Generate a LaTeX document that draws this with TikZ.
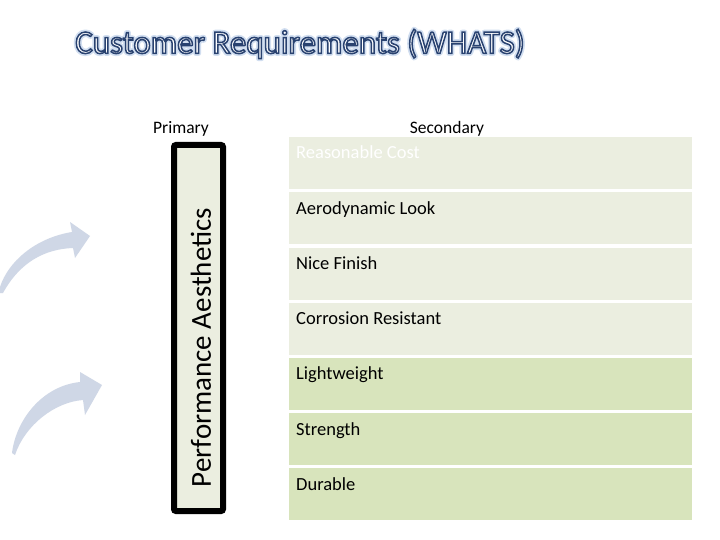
\documentclass[tikz,border=0pt]{standalone}
\usepackage{fontspec}
\setmainfont{Carlito}
\definecolor{rowA}{HTML}{EBEEE0}
\definecolor{rowB}{HTML}{D8E4BC}
\definecolor{arrowc}{HTML}{CFD7E6}
\tikzset{
  rowbox/.style={draw=none, minimum width=403pt, minimum height=52pt, anchor=north west, inner sep=0pt},
  rowtext/.style={anchor=base west, inner sep=0pt, font=\fontsize{18.5}{20}\selectfont},
  headtext/.style={inner sep=0pt, font=\fontsize{17.5}{19}\selectfont},
  primbox/.style={draw=black, line width=6pt, fill=rowA, rounded corners=2pt, minimum width=49pt, minimum height=366pt, inner sep=0pt},
  curvedarrow/.style={fill=arrowc, draw=none},
  titletext/.style={inner sep=0pt, font=\fontsize{33}{36}\selectfont}
}
\newcommand{\glowtext}[1]{\special{pdf:literal direct 2 Tr 5 w 1 J 1 j 0.82 0.87 0.94 RG 0.82 0.87 0.94 rg}#1\special{pdf:literal direct 0 Tr}}
\newcommand{\outlinetext}[1]{\special{pdf:literal direct 2 Tr 1.5 w 0.16 0.26 0.44 RG 1 1 1 rg}#1\special{pdf:literal direct 0 Tr}}
\begin{document}
\begin{tikzpicture}[x=1pt, y=-1pt]
\useasboundingbox (0,0) rectangle (720,540);
\fill[white] (0,0) rectangle (720,540);

% title (glow + outline)
\node[titletext] (titleglow) at (300,44) {\glowtext{Customer Requirements (WHATS)}};
\node[titletext] (title) at (300,44) {\outlinetext{Customer Requirements (WHATS)}};

% headings
\node[headtext] (prim) at (181,129) {Primary};
\node[headtext] (sec) at (447,129) {Secondary};

% primary box
\node[primbox] (pbox) at (198.5,328) {};
\node[rotate=90, inner sep=0pt, font=\fontsize{29}{31}\selectfont] (ptext) at (201,347.5) {Performance Aesthetics};

% rows
\node[rowbox, fill=rowA] (r1) at (289,137) {};
\node[rowbox, fill=rowA] (r2) at (289,192.2) {};
\node[rowbox, fill=rowA] (r3) at (289,247.4) {};
\node[rowbox, fill=rowA] (r4) at (289,302.6) {};
\node[rowbox, fill=rowB] (r5) at (289,357.8) {};
\node[rowbox, fill=rowB] (r6) at (289,413) {};
\node[rowbox, fill=rowB] (r7) at (289,468.2) {};

\node[rowtext, text=white] (t1) at ([xshift=7pt, yshift=-22pt]r1.north west) {Reasonable Cost};
\node[rowtext] (t2) at ([xshift=7pt, yshift=-22pt]r2.north west) {Aerodynamic Look};
\node[rowtext] (t3) at ([xshift=7pt, yshift=-22pt]r3.north west) {Nice Finish};
\node[rowtext] (t4) at ([xshift=7pt, yshift=-22pt]r4.north west) {Corrosion Resistant};
\node[rowtext] (t5) at ([xshift=7pt, yshift=-22pt]r5.north west) {Lightweight};
\node[rowtext] (t6) at ([xshift=7pt, yshift=-22pt]r6.north west) {Strength};
\node[rowtext] (t7) at ([xshift=7pt, yshift=-22pt]r7.north west) {Durable};

% curved arrows
\fill[curvedarrow] (0,287) .. controls (8,262) and (35,238) .. (72,232)
  -- (70,222) -- (90,236) -- (75,258) -- (73,248)
  .. controls (45,249) and (20,262) .. (3,293) -- (0,293) -- cycle;
\fill[curvedarrow] (12,453) .. controls (16,420) and (42,386) .. (80,382)
  -- (80,372) -- (102,385) -- (85,415) -- (83,400)
  .. controls (55,402) and (25,425) .. (15,455) -- cycle;
\end{tikzpicture}
\end{document}
